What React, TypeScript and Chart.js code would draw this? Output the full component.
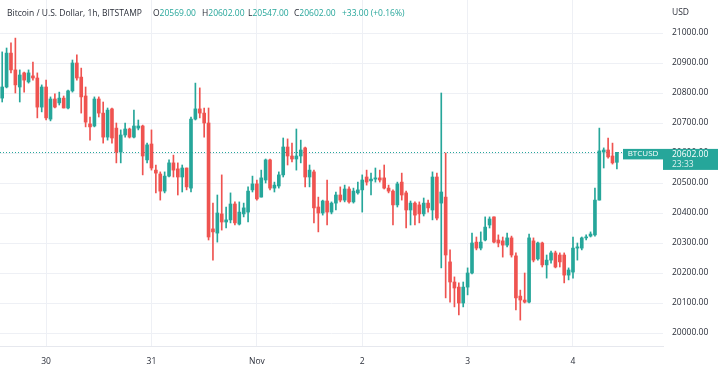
import React, { useEffect, useRef } from 'react';
import { Chart, registerables } from 'chart.js';

Chart.register(...registerables);

// ---- data (BTC/USD 1h, Bitstamp) ----
const opens = [
  20783, 20820, 20933, 20877, 20820, 20867, 20837, 20857, 20850, 20753,
  20820, 20713, 20780, 20767, 20783, 20750, 20807, 20900, 20853, 20790,
  20697, 20690, 20780, 20733, 20653, 20747, 20683, 20603, 20660, 20680,
  20653, 20683, 20690, 20577, 20630, 20543, 20530, 20473, 20523, 20567,
  20547, 20520, 20550, 20483, 20713, 20747, 20733, 20700, 20347, 20333,
  20397, 20370, 20377, 20430, 20363, 20397, 20403, 20477, 20497, 20453,
  20510, 20577, 20483, 20490, 20527, 20620, 20590, 20580, 20590, 20617,
  20520, 20537, 20420, 20400, 20440, 20403, 20433, 20460, 20443, 20480,
  20437, 20467, 20477, 20520, 20507, 20513, 20517, 20517, 20483, 20473,
  20427, 20503, 20467, 20410, 20433, 20427, 20397, 20433, 20410, 20520,
  20433, 20453, 20237, 20170, 20153, 20100, 20153, 20200, 20303, 20283,
  20310, 20360, 20387, 20310, 20307, 20293, 20317, 20257, 20123, 20110,
  20103, 20307, 20247, 20300, 20227, 20243, 20267, 20260, 20260, 20193,
  20203, 20283, 20283, 20317, 20323, 20327, 20443, 20603, 20610, 20590,
  20569,
];
const highs = [
  20937, 20950, 20967, 20983, 20877, 20870, 20877, 20903, 20867, 20827,
  20843, 20787, 20797, 20803, 20790, 20810, 20910, 20927, 20883, 20820,
  20720, 20787, 20787, 20770, 20750, 20750, 20700, 20677, 20700, 20683,
  20743, 20710, 20693, 20633, 20677, 20560, 20537, 20537, 20577, 20593,
  20567, 20560, 20550, 20720, 20833, 20817, 20750, 20750, 20433, 20460,
  20527, 20420, 20467, 20437, 20437, 20433, 20487, 20523, 20510, 20543,
  20580, 20580, 20503, 20537, 20650, 20647, 20633, 20680, 20643, 20620,
  20560, 20543, 20453, 20443, 20510, 20437, 20470, 20487, 20493, 20487,
  20483, 20503, 20527, 20543, 20533, 20550, 20543, 20560, 20493, 20477,
  20503, 20533, 20473, 20440, 20437, 20437, 20450, 20443, 20537, 20533,
  20800, 20600, 20277, 20187, 20167, 20170, 20217, 20333, 20320, 20337,
  20387, 20387, 20387, 20327, 20320, 20333, 20323, 20267, 20143, 20200,
  20330, 20317, 20303, 20303, 20260, 20273, 20273, 20267, 20267, 20217,
  20320, 20300, 20320, 20327, 20337, 20483, 20683, 20617, 20650, 20633,
  20602,
];
const lows = [
  20770, 20817, 20867, 20800, 20770, 20803, 20833, 20843, 20717, 20737,
  20710, 20707, 20750, 20760, 20750, 20747, 20803, 20843, 20733, 20687,
  20643, 20687, 20720, 20633, 20643, 20633, 20567, 20567, 20653, 20650,
  20650, 20677, 20527, 20567, 20543, 20467, 20443, 20467, 20520, 20520,
  20460, 20470, 20477, 20470, 20710, 20717, 20653, 20310, 20243, 20303,
  20343, 20350, 20367, 20360, 20360, 20387, 20370, 20470, 20443, 20453,
  20500, 20477, 20470, 20483, 20520, 20560, 20570, 20543, 20567, 20487,
  20487, 20367, 20337, 20393, 20360, 20397, 20410, 20437, 20437, 20433,
  20433, 20463, 20403, 20493, 20460, 20503, 20503, 20480, 20467, 20360,
  20420, 20443, 20350, 20360, 20360, 20367, 20390, 20403, 20377, 20377,
  20217, 20117, 20103, 20087, 20060, 20087, 20127, 20197, 20277, 20277,
  20307, 20350, 20300, 20287, 20253, 20287, 20253, 20077, 20043, 20100,
  20100, 20237, 20243, 20220, 20183, 20233, 20217, 20220, 20167, 20177,
  20183, 20243, 20277, 20310, 20320, 20323, 20443, 20550, 20583, 20563,
  20547,
];
const closes = [
  20820, 20933, 20877, 20827, 20860, 20843, 20867, 20850, 20753, 20820,
  20717, 20780, 20753, 20783, 20750, 20807, 20900, 20850, 20787, 20703,
  20687, 20780, 20733, 20653, 20743, 20650, 20603, 20660, 20680, 20653,
  20690, 20690, 20590, 20627, 20550, 20533, 20473, 20523, 20567, 20543,
  20520, 20550, 20487, 20713, 20747, 20733, 20700, 20320, 20337, 20400,
  20370, 20377, 20430, 20367, 20403, 20417, 20473, 20497, 20447, 20517,
  20577, 20483, 20493, 20527, 20620, 20590, 20580, 20590, 20610, 20520,
  20543, 20417, 20400, 20440, 20403, 20433, 20460, 20443, 20480, 20437,
  20473, 20477, 20510, 20503, 20513, 20517, 20510, 20483, 20473, 20427,
  20497, 20460, 20410, 20433, 20393, 20397, 20433, 20417, 20520, 20383,
  20470, 20260, 20170, 20150, 20100, 20153, 20200, 20300, 20283, 20303,
  20353, 20380, 20303, 20300, 20293, 20317, 20260, 20117, 20110, 20103,
  20317, 20243, 20300, 20227, 20243, 20267, 20220, 20237, 20193, 20210,
  20283, 20287, 20317, 20320, 20330, 20443, 20607, 20610, 20587, 20567,
  20602,
];

const firstCandleTimeUTC = Date.UTC(2022, 9, 29, 14); // Oct 29, 14:00
const futureSlots = 10; // empty hours on the right of the last candle
const dayTickLabels = ['30', '31', 'Nov', '2', '3', '4'];
const yTicks = [20000, 20100, 20200, 20300, 20400, 20500, 20600, 20700, 20800, 20900, 21000];
const yMin = 19956.67;
const yMax = 21110;

const headerTitle = 'Bitcoin / U.S. Dollar, 1h, BITSTAMP';
const symbolLabel = 'BTCUSD';
const currencyLabel = 'USD';
const countdownLabel = '23:33';

// ---- styles ----
const UP = '#26a69a';
const DOWN = '#ef5350';
const TEXT = '#2a2e39';
const GRID = '#eef0f5';
const FONT = "'Open Sans', 'Noto Sans', sans-serif";

const categories = Array.from({ length: opens.length + futureSlots }, (_, i) => {
  const d = new Date(firstCandleTimeUTC + i * 3600000);
  return d.toISOString().slice(0, 13).replace('T', ' ') + ':00';
});
const tickLabelAt: Record<number, string> = {};
{
  let k = 0;
  categories.forEach((c, i) => {
    if (c.endsWith(' 00:00') && k < dayTickLabels.length) {
      tickLabelAt[i] = dayTickLabels[k++];
    }
  });
}

const candleColors = opens.map((o, i) => (closes[i] >= o ? UP : DOWN));
const last = closes.length - 1;

const overlayPlugin = {
  id: 'tvOverlay',
  beforeDatasetsDraw(chart: any) {
    const { ctx, chartArea, scales } = chart;
    const py = Math.round(scales.y.getPixelForValue(closes[last])) + 0.5;
    ctx.save();
    ctx.strokeStyle = candleColors[last];
    ctx.lineWidth = 1;
    ctx.setLineDash([1, 2]);
    ctx.beginPath();
    ctx.moveTo(chartArea.left, py);
    ctx.lineTo(chartArea.right - 40, py);
    ctx.stroke();
    ctx.restore();
  },
  afterDraw(chart: any) {
    const { ctx, chartArea, scales, width } = chart;
    const py = scales.y.getPixelForValue(closes[last]);
    const col = candleColors[last];
    ctx.save();
    // symbol label
    ctx.fillStyle = col;
    ctx.fillRect(chartArea.right - 40, py - 3.5, 40, 10.5);
    ctx.fillStyle = '#ffffff';
    ctx.font = `8px ${FONT}`;
    ctx.textAlign = 'center';
    ctx.textBaseline = 'middle';
    ctx.fillText(symbolLabel, chartArea.right - 20, py + 1.8);
    // price label
    ctx.fillStyle = col;
    ctx.fillRect(chartArea.right, py - 3.5, width - chartArea.right, 21);
    ctx.fillStyle = '#ffffff';
    ctx.textAlign = 'left';
    ctx.font = `8.5px ${FONT}`;
    ctx.fillText(closes[last].toFixed(2), chartArea.right + 9, py + 2);
    ctx.fillStyle = 'rgba(255,255,255,0.85)';
    ctx.fillText(countdownLabel, chartArea.right + 9, py + 12);
    // currency
    ctx.fillStyle = TEXT;
    ctx.fillText(currencyLabel, chartArea.right + 9, 13);
    // header
    ctx.font = `8.5px ${FONT}`;
    let fs = 8.5;
    const tw = ctx.measureText(headerTitle).width;
    if (tw > 142) fs = (8.5 * 142) / tw;
    ctx.font = `${fs}px ${FONT}`;
    ctx.fillStyle = TEXT;
    ctx.fillText(headerTitle, 7, 14);
    const o = opens[last], h = highs[last], l = lows[last], c = closes[last];
    const ch = c - o;
    const pct = (ch / o) * 100;
    const sign = ch >= 0 ? '+' : '\u2212';
    const segs: [string, string, number][] = [
      ['O', o.toFixed(2), 153],
      ['H', h.toFixed(2), 202],
      ['L', l.toFixed(2), 248],
      ['C', c.toFixed(2), 294],
    ];
    segs.forEach(([k, v, x]) => {
      ctx.fillStyle = TEXT;
      ctx.fillText(k, x, 14);
      const kw = ctx.measureText(k).width;
      ctx.fillStyle = col;
      ctx.fillText(v, x + kw, 14);
    });
    ctx.fillStyle = col;
    ctx.fillText(`${sign}${Math.abs(ch).toFixed(2)} (${sign}${Math.abs(pct).toFixed(2)}%)`, 342, 14);
    ctx.restore();
  },
};

export default function App() {
  const ref = useRef<HTMLCanvasElement>(null);
  useEffect(() => {
    const canvas = ref.current;
    if (!canvas) return;
    const chart = new Chart(canvas, {
      type: 'bar',
      data: {
        labels: categories,
        datasets: [
          {
            label: 'wick',
            data: lows.map((lo, i) => [lo, highs[i]]) as any,
            backgroundColor: candleColors,
            borderWidth: 0,
            barThickness: 1,
            grouped: false,
            order: 2,
          },
          {
            label: 'body',
            data: opens.map((o, i) => [o, closes[i]]) as any,
            backgroundColor: candleColors,
            borderWidth: 0,
            barThickness: 3,
            minBarLength: 1,
            grouped: false,
            order: 1,
          },
        ],
      },
      options: {
        responsive: false,
        maintainAspectRatio: false,
        animation: false,
        layout: { padding: 0 },
        plugins: {
          legend: { display: false },
          tooltip: { enabled: false },
        },
        scales: {
          x: {
            type: 'category',
            offset: true,
            grid: {
              offset: false,
              drawTicks: false,
              color: (ctx: any) => (tickLabelAt[ctx.index] !== undefined ? GRID : 'rgba(0,0,0,0)'),
            },
            border: { display: true, color: '#e6e8ee' },
            ticks: {
              autoSkip: false,
              maxRotation: 0,
              minRotation: 0,
              padding: 10,
              color: TEXT,
              font: { family: FONT, size: 8.5 },
              callback: (_v: any, i: number) => tickLabelAt[i] ?? '',
            },
            afterFit: (s: any) => {
              s.height = 33;
              s.paddingLeft = 0;
              s.paddingRight = 0;
            },
          },
          y: {
            position: 'right',
            min: yMin,
            max: yMax,
            afterBuildTicks: (s: any) => {
              s.ticks = yTicks.map((v) => ({ value: v }));
            },
            grid: { color: GRID, drawTicks: false },
            border: { display: false },
            ticks: {
              padding: 9,
              color: TEXT,
              font: { family: FONT, size: 8.5 },
              callback: (v: any) => Number(v).toFixed(2),
            },
            afterFit: (s: any) => {
              s.width = 55;
              s.paddingTop = 0;
              s.paddingBottom = 0;
            },
          },
        },
      } as any,
      plugins: [overlayPlugin],
    });
    return () => chart.destroy();
  }, []);
  return (
    <div style={{ position: 'fixed', left: 0, top: 0, width: 718, height: 379, background: '#ffffff' }}>
      <canvas ref={ref} width={718} height={379} style={{ display: 'block', width: 718, height: 379 }} />
    </div>
  );
}
